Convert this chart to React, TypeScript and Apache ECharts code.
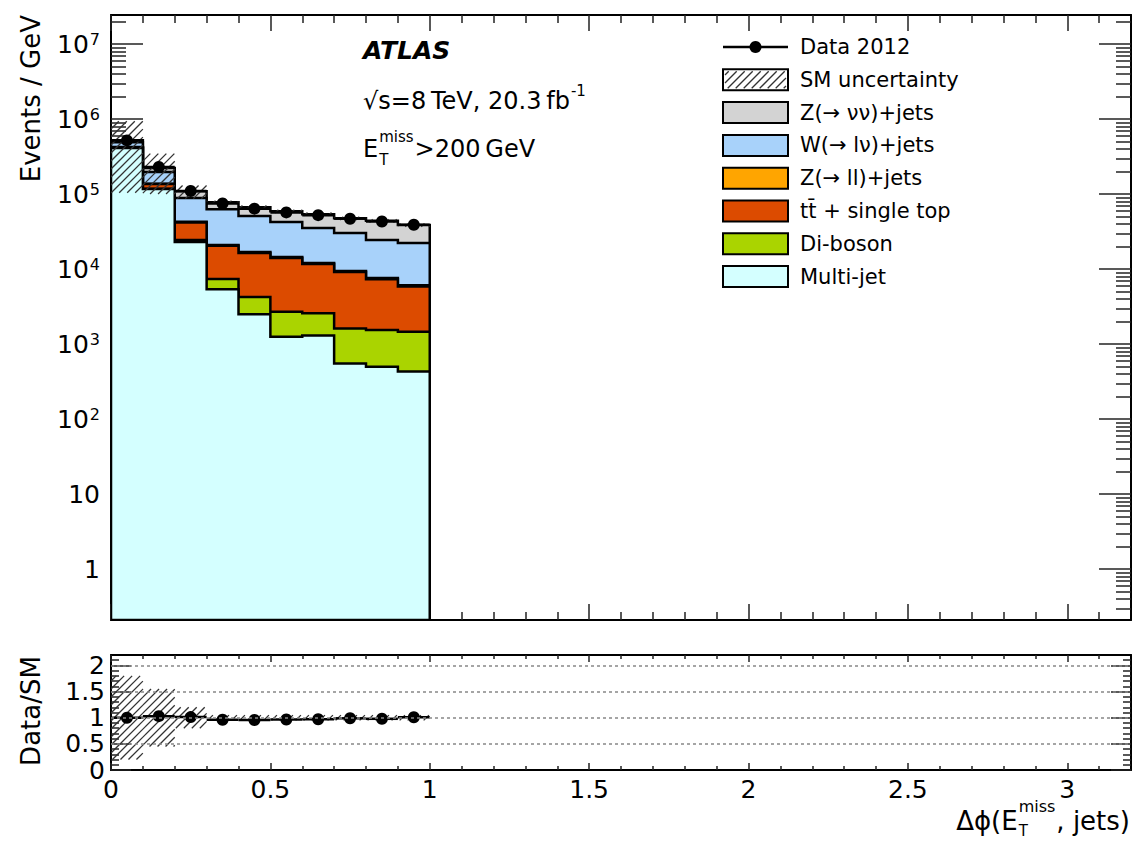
import React, { useEffect, useRef } from 'react';
import * as echarts from 'echarts';

// Δφ(E_T^miss, jets) bins and per-bin yields (Events / GeV)
const binEdges = [0, 0.1, 0.2, 0.3, 0.4, 0.5, 0.6, 0.7, 0.8, 0.9, 1.0];
const multijet = [410000, 117000, 22900, 5400, 2500, 1250, 1300, 550, 500, 430];
const diboson = [300, 800, 1500, 2000, 1740, 1450, 1270, 1070, 1040, 1030];
const ttbarSingleTop = [12000, 18000, 17500, 13000, 12200, 11400, 9100, 7500, 5800, 4400];
const zllJets = [2000, 1500, 800, 600, 500, 400, 350, 300, 260, 240];
const wlnuJets = [66000, 60000, 46000, 42000, 34000, 28000, 23200, 20800, 16800, 16100];
const znunuJets = [30000, 26000, 20000, 15000, 16000, 16500, 18800, 17300, 19600, 16400];
const data2012 = [520000, 230000, 110000, 75000, 64000, 57000, 52400, 47000, 43100, 39000];
const smRelUncertainty = [0.8, 0.55, 0.2, 0.05, 0.05, 0.05, 0.05, 0.05, 0.05, 0.05];

// stack order, bottom to top
const stackValues = [multijet, diboson, ttbarSingleTop, zllJets, wlnuJets, znunuJets];
const stackNames = ['Multi-jet', 'Di-boson', 'tt\u0304 + single top', 'Z(\u2192 ll)+jets', 'W(\u2192 l\u03bd)+jets', 'Z(\u2192 \u03bd\u03bd)+jets'];
const stackColors = ['#d4ffff', '#aad400', '#dc4b00', '#ffa500', '#a8d2fa', '#d3d3d3'];

// axis ranges and tick values
const X_MAX = 3.2;
const Y_MIN = 0.21;
const Y_MAX = 2.44e7;
const R_MAX = 2.2;
const xMajorTicks = [0, 0.5, 1, 1.5, 2, 2.5, 3];
const yDecadeTicks = [1, 10, 100, 1e3, 1e4, 1e5, 1e6, 1e7];
const ratioMajorTicks = [0, 0.5, 1, 1.5, 2];
const ratioGridLines = [0.5, 1, 1.5, 2];

const FONT = 'DejaVu Sans';

function tenthTicks(maxTenths: number): number[] {
  const out: number[] = [];
  for (let i = 1; i <= maxTenths; i++) if (i % 5 !== 0) out.push(i / 10);
  return out;
}
function logMinorTicks(): number[] {
  const out: number[] = [];
  for (let e = -1; e <= 7; e++) {
    for (let m = 2; m <= 9; m++) {
      const v = m * Math.pow(10, e);
      if (v > Y_MIN && v < Y_MAX) out.push(v);
    }
  }
  return out;
}

let measureCtx: CanvasRenderingContext2D | null = null;
function textWidth(text: string, size: number, weight = 'normal', style = 'normal'): number {
  if (!measureCtx) measureCtx = document.createElement('canvas').getContext('2d');
  if (!measureCtx) return text.length * size * 0.6;
  measureCtx.font = `${style} ${weight} ${size}px "${FONT}"`;
  return measureCtx.measureText(text).width;
}

function txt(text: string, x: number, y: number, size: number, opts: any = {}) {
  return {
    type: 'text',
    x,
    y,
    rotation: opts.rotation || 0,
    z: 10,
    style: {
      text,
      fontSize: size,
      fontFamily: FONT,
      fontWeight: opts.weight || 'normal',
      fontStyle: opts.style || 'normal',
      fill: '#000',
      align: opts.align || 'left',
      textAlign: opts.align || 'left',
      verticalAlign: opts.va || 'middle',
      textVerticalAlign: opts.va || 'middle',
    },
  };
}

// "/" hatching clipped to a rectangle (pixel space)
function hatchSegments(x0: number, y0: number, x1: number, y1: number, step: number): number[][] {
  const segs: number[][] = [];
  if (x1 <= x0 || y1 <= y0) return segs;
  const start = Math.ceil((x0 + y0) / step) * step;
  for (let c = start; c <= x1 + y1; c += step) {
    const xa = Math.max(x0, c - y1);
    const xb = Math.min(x1, c - y0);
    if (xb > xa) segs.push([xa, c - xa, xb, c - xb]);
  }
  return segs;
}

function hatchLines(x0: number, y0: number, x1: number, y1: number) {
  return hatchSegments(x0, y0, x1, y1, 8).map((s) => ({
    type: 'line',
    shape: { x1: s[0], y1: s[1], x2: s[2], y2: s[3] },
    style: { stroke: '#333', lineWidth: 1.3 },
  }));
}

function xAxisDef(gridIndex: number, position: string, ticks: number[], len: number, frame: boolean, labels: boolean) {
  return {
    type: 'value',
    gridIndex,
    position,
    min: 0,
    max: X_MAX,
    axisLine: { show: frame, onZero: false, lineStyle: { color: '#000', width: 2 } },
    axisTick: { show: true, inside: true, length: len, customValues: ticks, lineStyle: { color: '#222', width: 1.5 } },
    axisLabel: labels
      ? { show: true, customValues: xMajorTicks, fontSize: 25, fontFamily: FONT, color: '#000', margin: 7 }
      : { show: false },
    splitLine: { show: false },
  };
}

function logAxisDef(position: string, ticks: number[], len: number, frame: boolean, labels: boolean) {
  return {
    type: 'log',
    logBase: 10,
    gridIndex: 0,
    position,
    min: Y_MIN,
    max: Y_MAX,
    axisLine: { show: frame, onZero: false, lineStyle: { color: '#000', width: 2 } },
    axisTick: { show: true, inside: true, length: len, customValues: ticks, lineStyle: { color: '#222', width: 1.5 } },
    axisLabel: labels
      ? {
          show: true,
          customValues: yDecadeTicks,
          margin: 11,
          fontSize: 25,
          fontFamily: FONT,
          color: '#000',
          formatter: (v: number) => {
            const e = Math.round(Math.log10(v));
            if (e === 0) return '1';
            if (e === 1) return '10';
            return `{b|10}{s|${e}}`;
          },
          rich: {
            b: { fontSize: 25, fontFamily: FONT, color: '#000' },
            s: { fontSize: 16, fontFamily: FONT, color: '#000', verticalAlign: 'top', padding: [0, 0, 0, 1] },
          },
        }
      : { show: false },
    splitLine: { show: false },
  };
}

function ratioAxisDef(position: string, ticks: number[], len: number, frame: boolean, labels: boolean) {
  return {
    type: 'value',
    gridIndex: 1,
    position,
    min: 0,
    max: R_MAX,
    axisLine: { show: frame, onZero: false, lineStyle: { color: '#000', width: 2 } },
    axisTick: { show: true, inside: true, length: len, customValues: ticks, lineStyle: { color: '#222', width: 1.5 } },
    axisLabel: labels
      ? { show: true, customValues: ratioMajorTicks, fontSize: 25, fontFamily: FONT, color: '#000', margin: 6 }
      : { show: false },
    splitLine: { show: false },
  };
}

function buildOption() {
  const nBins = binEdges.length - 1;
  const binIdx = Array.from({ length: nBins }, (_, i) => i);

  // cumulative stack tops
  const cumulative: number[][] = [];
  stackValues.forEach((vals, k) => {
    cumulative.push(binIdx.map((i) => vals[i] + (k > 0 ? cumulative[k - 1][i] : 0)));
  });
  const smTotal = cumulative[cumulative.length - 1];
  const dataOverSM = binIdx.map((i) => data2012[i] / smTotal[i]);
  const binCentres = binIdx.map((i) => (binEdges[i] + binEdges[i + 1]) / 2);

  const stackSeries = stackValues
    .map((_, k) => k)
    .reverse()
    .map((k) => ({
      type: 'custom',
      name: stackNames[k],
      xAxisIndex: 0,
      yAxisIndex: 0,
      clip: true,
      encode: { x: [0, 1], y: 2 },
      data: binIdx.map((i) => [binEdges[i], binEdges[i + 1], cumulative[k][i]]),
      renderItem: (params: any, api: any) => {
        if (params.dataIndexInside !== 0) return null;
        const n = params.dataInsideLength;
        const pts: number[][] = [api.coord([api.value(0, 0), Y_MIN])];
        for (let i = 0; i < n; i++) {
          const v = api.value(2, i);
          pts.push(api.coord([api.value(0, i), v]));
          pts.push(api.coord([api.value(1, i), v]));
        }
        pts.push(api.coord([api.value(1, n - 1), Y_MIN]));
        return {
          type: 'polygon',
          shape: { points: pts },
          style: { fill: stackColors[k], stroke: '#000', lineWidth: 2.5, lineJoin: 'miter' },
        };
      },
    }));

  const bandRender = (params: any, api: any) => {
    const cs = params.coordSys;
    const pTop = api.coord([api.value(0), api.value(3)]);
    const pBot = api.coord([api.value(1), api.value(2)]);
    const x0 = Math.max(pTop[0], cs.x);
    const x1 = Math.min(pBot[0], cs.x + cs.width);
    const y0 = Math.max(pTop[1], cs.y);
    const y1 = Math.min(pBot[1], cs.y + cs.height);
    return { type: 'group', children: hatchLines(x0, y0, x1, y1) };
  };

  const barRender = (params: any, api: any) => {
    const a = api.coord([api.value(0), api.value(2)]);
    const b = api.coord([api.value(1), api.value(2)]);
    return { type: 'line', shape: { x1: a[0], y1: a[1], x2: b[0], y2: b[1] }, style: { stroke: '#000', lineWidth: 2.5 } };
  };

  const series: any[] = [
    ...stackSeries,
    {
      type: 'custom',
      name: 'SM uncertainty',
      xAxisIndex: 0,
      yAxisIndex: 0,
      clip: true,
      encode: { x: [0, 1], y: [2, 3] },
      data: binIdx.map((i) => [binEdges[i], binEdges[i + 1], smTotal[i] * (1 - smRelUncertainty[i]), smTotal[i] * (1 + smRelUncertainty[i])]),
      renderItem: bandRender,
    },
    {
      type: 'custom',
      name: 'Data 2012 bins',
      xAxisIndex: 0,
      yAxisIndex: 0,
      clip: true,
      encode: { x: [0, 1], y: 2 },
      data: binIdx.map((i) => [binEdges[i], binEdges[i + 1], data2012[i]]),
      renderItem: barRender,
    },
    {
      type: 'scatter',
      name: 'Data 2012',
      xAxisIndex: 0,
      yAxisIndex: 0,
      symbol: 'circle',
      symbolSize: 12,
      itemStyle: { color: '#000', opacity: 1 },
      data: binIdx.map((i) => [binCentres[i], data2012[i]]),
    },
    {
      type: 'custom',
      name: 'SM uncertainty ratio',
      xAxisIndex: 4,
      yAxisIndex: 4,
      clip: true,
      encode: { x: [0, 1], y: [2, 3] },
      data: binIdx.map((i) => [binEdges[i], binEdges[i + 1], 1 - smRelUncertainty[i], 1 + smRelUncertainty[i]]),
      renderItem: bandRender,
      markLine: {
        silent: true,
        symbol: ['none', 'none'],
        label: { show: false },
        lineStyle: { color: '#888', width: 1.5, type: [3, 3] },
        data: ratioGridLines.map((v) => ({ yAxis: v })),
      },
    },
    {
      type: 'custom',
      name: 'Data/SM bins',
      xAxisIndex: 4,
      yAxisIndex: 4,
      clip: true,
      encode: { x: [0, 1], y: 2 },
      data: binIdx.map((i) => [binEdges[i], binEdges[i + 1], dataOverSM[i]]),
      renderItem: barRender,
    },
    {
      type: 'scatter',
      name: 'Data/SM',
      xAxisIndex: 4,
      yAxisIndex: 4,
      symbol: 'circle',
      symbolSize: 12,
      itemStyle: { color: '#000', opacity: 1 },
      data: binIdx.map((i) => [binCentres[i], dataOverSM[i]]),
    },
  ];

  // legend
  const legendX = 723;
  const legendW = 65;
  const legendH = 21;
  const legendTextX = 800;
  const legendY0 = 47;
  const legendStep = 32.8;
  const legendEls: any[] = [];
  const legendRows: { label: string; kind: string; color?: string }[] = [
    { label: 'Data 2012', kind: 'data' },
    { label: 'SM uncertainty', kind: 'hatch' },
  ];
  for (let k = stackNames.length - 1; k >= 0; k--) legendRows.push({ label: stackNames[k], kind: 'fill', color: stackColors[k] });
  legendRows.forEach((row, r) => {
    const cy = legendY0 + r * legendStep;
    if (row.kind === 'data') {
      legendEls.push({ type: 'line', shape: { x1: legendX, y1: cy, x2: legendX + legendW, y2: cy }, style: { stroke: '#000', lineWidth: 2.5 } });
      legendEls.push({ type: 'circle', shape: { cx: legendX + legendW / 2, cy, r: 6 }, style: { fill: '#000' } });
    } else {
      const y0 = cy - legendH / 2;
      legendEls.push({
        type: 'rect',
        shape: { x: legendX, y: y0, width: legendW, height: legendH },
        style: { fill: row.kind === 'hatch' ? '#fff' : row.color, stroke: '#000', lineWidth: 2 },
      });
      if (row.kind === 'hatch') {
        legendEls.push(...hatchLines(legendX + 2, y0 + 2, legendX + legendW - 2, y0 + legendH - 2));
      }
    }
    legendEls.push(txt(row.label, legendTextX, cy, 21));
  });

  // annotations
  const annX = 363;
  const sqrtText = '\u221as=8\u2009TeV, 20.3\u2009fb';
  const wSqrt = textWidth(sqrtText, 24);
  const wE = textWidth('E', 24);
  const wMiss = textWidth('miss', 15);
  const annEls: any[] = [
    txt('ATLAS', annX, 50, 25, { weight: 'bold', style: 'italic' }),
    txt(sqrtText, annX, 101, 24),
    txt('-1', annX + wSqrt + 1, 91, 15),
    txt('E', annX, 149, 24),
    txt('miss', annX + wE + 1, 137, 15),
    txt('T', annX + wE + 1, 160, 15),
    txt('>200\u2009GeV', annX + wE + 2 + wMiss, 149, 24),
  ];

  // axis titles
  const tA = '\u0394\u03d5(E';
  const tB = ', jets)';
  const wA = textWidth(tA, 26);
  const wM = textWidth('miss', 16);
  const wB = textWidth(tB, 26);
  const titleStart = 1130 - (wA + wM + wB + 2);
  const titleEls: any[] = [
    txt('Events / GeV', 31, 15, 26, { rotation: Math.PI / 2, align: 'right' }),
    txt('Data/SM', 31, 711, 26, { rotation: Math.PI / 2, align: 'center' }),
    txt(tA, titleStart, 821, 26),
    txt('miss', titleStart + wA + 1, 806, 16),
    txt('T', titleStart + wA + 1, 831, 15),
    txt(tB, titleStart + wA + wM + 2, 821, 26),
  ];

  const xMinor = tenthTicks(31);
  const yMinor = logMinorTicks();
  const rMinor = tenthTicks(21);

  return {
    animation: false,
    backgroundColor: '#fff',
    textStyle: { fontFamily: FONT },
    grid: [
      { left: 111, top: 15, width: 1020, height: 605 },
      { left: 111, top: 655, width: 1020, height: 115 },
    ],
    xAxis: [
      xAxisDef(0, 'bottom', xMajorTicks, 16, true, false),
      xAxisDef(0, 'bottom', xMinor, 8, false, false),
      xAxisDef(0, 'top', xMajorTicks, 16, true, false),
      xAxisDef(0, 'top', xMinor, 8, false, false),
      xAxisDef(1, 'bottom', xMajorTicks, 7, true, true),
      xAxisDef(1, 'bottom', xMinor, 4, false, false),
      xAxisDef(1, 'top', xMajorTicks, 7, true, false),
      xAxisDef(1, 'top', xMinor, 4, false, false),
    ],
    yAxis: [
      logAxisDef('left', yDecadeTicks, 32, true, true),
      logAxisDef('left', yMinor, 15, false, false),
      logAxisDef('right', yDecadeTicks, 32, true, false),
      logAxisDef('right', yMinor, 15, false, false),
      ratioAxisDef('left', ratioMajorTicks, 20, true, true),
      ratioAxisDef('left', rMinor, 8, false, false),
      ratioAxisDef('right', ratioMajorTicks, 20, true, false),
      ratioAxisDef('right', rMinor, 8, false, false),
    ],
    graphic: { elements: [...legendEls, ...annEls, ...titleEls] },
    series,
  };
}

export default function App() {
  const ref = useRef<HTMLDivElement>(null);
  useEffect(() => {
    if (!ref.current) return;
    const chart = echarts.init(ref.current, null, { renderer: 'svg' });
    chart.setOption(buildOption() as any);
    return () => chart.dispose();
  }, []);
  return (
    <div
      ref={ref}
      style={{ position: 'fixed', left: 0, top: 0, width: 1134, height: 841, background: '#fff' }}
    />
  );
}
